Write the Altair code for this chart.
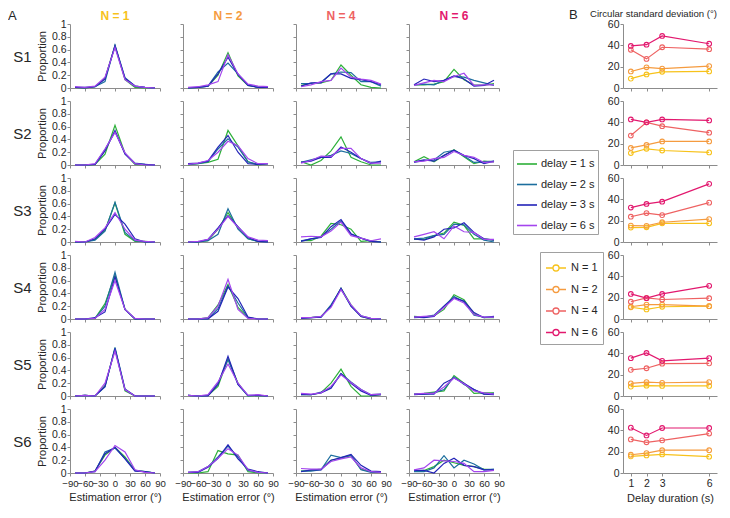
import altair as alt
import pandas as pd

subjects = ["S1", "S2", "S3", "S4", "S5", "S6"]
set_sizes = [1, 2, 4, 6]
set_labels = ["N = 1", "N = 2", "N = 4", "N = 6"]
set_colors = ["#F7C21B", "#F59B3F", "#EE6262", "#E2186E"]
delays = [1, 2, 3, 6]
delay_labels = ["delay = 1 s", "delay = 2 s", "delay = 3 s", "delay = 6 s"]
delay_colors = ["#2DB039", "#1C6E9E", "#2424B8", "#A445EE"]
error_bins = [-80, -60, -40, -20, 0, 20, 40, 60, 80]
x_ticks = [-90, -60, -30, 0, 30, 60, 90]
y_ticks = [0, 0.2, 0.4, 0.6, 0.8, 1]
csd_ticks = [0, 20, 40, 60]

# Panel A: proportion of responses per error bin; rows = delay 1, 2, 3, 6 s
S1_N1 = [[0.01, 0.00, 0.02, 0.15, 0.66, 0.13, 0.01, 0.00, 0.00],
         [0.01, 0.01, 0.02, 0.10, 0.67, 0.16, 0.03, 0.01, 0.00],
         [0.01, 0.00, 0.02, 0.14, 0.66, 0.15, 0.03, 0.01, 0.00],
         [0.02, 0.01, 0.03, 0.17, 0.63, 0.13, 0.03, 0.01, 0.00]]
S1_N2 = [[0.00, 0.01, 0.03, 0.20, 0.55, 0.19, 0.04, 0.01, 0.01],
         [0.00, 0.01, 0.03, 0.25, 0.39, 0.22, 0.05, 0.01, 0.01],
         [0.00, 0.01, 0.03, 0.22, 0.48, 0.21, 0.04, 0.01, 0.01],
         [0.01, 0.02, 0.05, 0.10, 0.52, 0.22, 0.06, 0.03, 0.02]]
S1_N4 = [[0.04, 0.07, 0.08, 0.12, 0.36, 0.20, 0.05, 0.01, 0.00],
         [0.07, 0.07, 0.09, 0.22, 0.25, 0.24, 0.10, 0.10, 0.03],
         [0.03, 0.08, 0.08, 0.22, 0.22, 0.15, 0.13, 0.10, 0.05],
         [0.02, 0.05, 0.10, 0.12, 0.31, 0.17, 0.14, 0.12, 0.06]]
S1_N6 = [[0.05, 0.05, 0.06, 0.10, 0.29, 0.13, 0.05, 0.04, 0.07],
         [0.05, 0.06, 0.05, 0.12, 0.18, 0.17, 0.12, 0.08, 0.04],
         [0.05, 0.14, 0.10, 0.12, 0.19, 0.14, 0.03, 0.04, 0.12],
         [0.04, 0.08, 0.12, 0.10, 0.18, 0.23, 0.04, 0.05, 0.05]]
S2_N1 = [[0.00, 0.00, 0.01, 0.17, 0.62, 0.18, 0.01, 0.00, 0.00],
         [0.00, 0.00, 0.01, 0.24, 0.52, 0.18, 0.03, 0.01, 0.00],
         [0.00, 0.00, 0.01, 0.22, 0.54, 0.17, 0.02, 0.01, 0.00],
         [0.00, 0.00, 0.02, 0.25, 0.51, 0.19, 0.02, 0.00, 0.00]]
S2_N2 = [[0.00, 0.02, 0.04, 0.09, 0.54, 0.30, 0.05, 0.00, 0.02],
         [0.01, 0.02, 0.05, 0.25, 0.41, 0.28, 0.05, 0.01, 0.02],
         [0.02, 0.03, 0.06, 0.28, 0.46, 0.20, 0.02, 0.01, 0.02],
         [0.01, 0.03, 0.07, 0.20, 0.37, 0.30, 0.10, 0.02, 0.02]]
S2_N4 = [[0.05, 0.00, 0.07, 0.22, 0.44, 0.12, 0.05, 0.00, 0.00],
         [0.04, 0.08, 0.12, 0.15, 0.22, 0.18, 0.10, 0.04, 0.05],
         [0.04, 0.06, 0.12, 0.12, 0.28, 0.20, 0.10, 0.02, 0.06],
         [0.03, 0.07, 0.14, 0.13, 0.26, 0.26, 0.10, 0.03, 0.03]]
S2_N6 = [[0.05, 0.13, 0.05, 0.15, 0.24, 0.13, 0.02, 0.06, 0.05],
         [0.04, 0.07, 0.08, 0.20, 0.23, 0.14, 0.04, 0.05, 0.06],
         [0.05, 0.08, 0.06, 0.15, 0.23, 0.15, 0.10, 0.02, 0.06],
         [0.05, 0.06, 0.10, 0.12, 0.21, 0.15, 0.12, 0.04, 0.05]]
S3_N1 = [[0.00, 0.00, 0.04, 0.18, 0.61, 0.12, 0.01, 0.01, 0.00],
         [0.00, 0.00, 0.03, 0.17, 0.62, 0.15, 0.02, 0.00, 0.00],
         [0.00, 0.00, 0.05, 0.20, 0.43, 0.28, 0.05, 0.00, 0.00],
         [0.01, 0.00, 0.07, 0.22, 0.46, 0.20, 0.03, 0.01, 0.00]]
S3_N2 = [[0.00, 0.00, 0.02, 0.20, 0.46, 0.22, 0.05, 0.01, 0.01],
         [0.00, 0.00, 0.02, 0.12, 0.52, 0.20, 0.05, 0.01, 0.00],
         [0.00, 0.00, 0.04, 0.22, 0.41, 0.24, 0.07, 0.01, 0.00],
         [0.00, 0.01, 0.04, 0.20, 0.40, 0.23, 0.08, 0.03, 0.02]]
S3_N4 = [[0.02, 0.02, 0.09, 0.29, 0.27, 0.20, 0.01, 0.02, 0.00],
         [0.02, 0.05, 0.08, 0.20, 0.33, 0.12, 0.06, 0.01, 0.00],
         [0.01, 0.05, 0.07, 0.24, 0.35, 0.13, 0.06, 0.01, 0.00],
         [0.08, 0.09, 0.08, 0.17, 0.31, 0.10, 0.06, 0.02, 0.05]]
S3_N6 = [[0.04, 0.04, 0.10, 0.14, 0.31, 0.26, 0.05, 0.05, 0.03],
         [0.05, 0.06, 0.10, 0.12, 0.28, 0.27, 0.12, 0.03, 0.00],
         [0.05, 0.03, 0.08, 0.20, 0.22, 0.30, 0.15, 0.05, 0.03],
         [0.08, 0.12, 0.16, 0.05, 0.25, 0.16, 0.15, 0.04, 0.04]]
S4_N1 = [[0.00, 0.00, 0.01, 0.24, 0.68, 0.15, 0.00, 0.00, 0.00],
         [0.00, 0.00, 0.01, 0.20, 0.73, 0.15, 0.00, 0.00, 0.00],
         [0.00, 0.00, 0.02, 0.11, 0.66, 0.15, 0.00, 0.00, 0.00],
         [0.00, 0.00, 0.01, 0.15, 0.60, 0.15, 0.01, 0.00, 0.00]]
S4_N2 = [[0.00, 0.00, 0.02, 0.22, 0.54, 0.18, 0.02, 0.00, 0.00],
         [0.00, 0.00, 0.00, 0.16, 0.52, 0.25, 0.02, 0.00, 0.00],
         [0.00, 0.00, 0.00, 0.12, 0.50, 0.32, 0.03, 0.00, 0.00],
         [0.00, 0.00, 0.02, 0.20, 0.62, 0.15, 0.01, 0.00, 0.00]]
S4_N4 = [[0.02, 0.02, 0.04, 0.20, 0.48, 0.22, 0.04, 0.00, 0.00],
         [0.01, 0.02, 0.03, 0.22, 0.47, 0.20, 0.05, 0.01, 0.00],
         [0.01, 0.02, 0.03, 0.20, 0.48, 0.20, 0.04, 0.00, 0.00],
         [0.02, 0.02, 0.04, 0.18, 0.46, 0.22, 0.05, 0.01, 0.00]]
S4_N6 = [[0.04, 0.03, 0.05, 0.15, 0.38, 0.30, 0.08, 0.02, 0.02],
         [0.02, 0.03, 0.06, 0.20, 0.35, 0.27, 0.06, 0.03, 0.03],
         [0.03, 0.02, 0.04, 0.20, 0.33, 0.28, 0.10, 0.02, 0.04],
         [0.03, 0.04, 0.05, 0.18, 0.32, 0.25, 0.07, 0.03, 0.03]]
S5_N1 = [[0.00, 0.01, 0.00, 0.16, 0.74, 0.08, 0.00, 0.00, 0.00],
         [0.00, 0.01, 0.00, 0.14, 0.76, 0.11, 0.00, 0.00, 0.00],
         [0.00, 0.01, 0.00, 0.15, 0.74, 0.10, 0.00, 0.00, 0.00],
         [0.00, 0.01, 0.00, 0.20, 0.70, 0.10, 0.00, 0.00, 0.00]]
S5_N2 = [[0.01, 0.00, 0.01, 0.15, 0.58, 0.20, 0.00, 0.01, 0.00],
         [0.01, 0.00, 0.01, 0.20, 0.57, 0.18, 0.00, 0.01, 0.00],
         [0.01, 0.00, 0.00, 0.18, 0.62, 0.18, 0.01, 0.01, 0.00],
         [0.01, 0.00, 0.02, 0.22, 0.50, 0.20, 0.01, 0.02, 0.00]]
S5_N4 = [[0.02, 0.02, 0.05, 0.20, 0.42, 0.15, 0.00, 0.00, 0.02],
         [0.03, 0.02, 0.06, 0.13, 0.35, 0.22, 0.10, 0.02, 0.03],
         [0.02, 0.02, 0.05, 0.12, 0.35, 0.20, 0.08, 0.01, 0.02],
         [0.04, 0.03, 0.05, 0.15, 0.33, 0.21, 0.10, 0.02, 0.03]]
S5_N6 = [[0.03, 0.04, 0.06, 0.08, 0.32, 0.20, 0.04, 0.05, 0.05],
         [0.03, 0.03, 0.05, 0.10, 0.30, 0.18, 0.10, 0.03, 0.04],
         [0.02, 0.03, 0.03, 0.20, 0.28, 0.20, 0.10, 0.03, 0.02],
         [0.03, 0.04, 0.04, 0.14, 0.28, 0.19, 0.08, 0.05, 0.03]]
S6_N1 = [[0.00, 0.00, 0.03, 0.28, 0.40, 0.25, 0.04, 0.02, 0.00],
         [0.00, 0.00, 0.02, 0.33, 0.39, 0.23, 0.04, 0.02, 0.00],
         [0.00, 0.00, 0.03, 0.30, 0.40, 0.22, 0.03, 0.02, 0.00],
         [0.00, 0.00, 0.02, 0.20, 0.43, 0.33, 0.05, 0.01, 0.00]]
S6_N2 = [[0.00, 0.00, 0.02, 0.35, 0.30, 0.28, 0.02, 0.00, 0.00],
         [0.01, 0.02, 0.10, 0.25, 0.42, 0.25, 0.04, 0.01, 0.00],
         [0.01, 0.01, 0.09, 0.23, 0.44, 0.22, 0.06, 0.02, 0.00],
         [0.01, 0.02, 0.10, 0.23, 0.38, 0.28, 0.05, 0.01, 0.00]]
S6_N4 = [[0.03, 0.04, 0.06, 0.20, 0.23, 0.27, 0.06, 0.02, 0.01],
         [0.03, 0.03, 0.05, 0.28, 0.24, 0.28, 0.05, 0.01, 0.01],
         [0.02, 0.05, 0.05, 0.20, 0.24, 0.29, 0.12, 0.03, 0.02],
         [0.07, 0.06, 0.06, 0.18, 0.22, 0.25, 0.08, 0.02, 0.01]]
S6_N6 = [[0.03, 0.04, 0.10, 0.20, 0.16, 0.12, 0.10, 0.06, 0.05],
         [0.02, 0.02, 0.08, 0.27, 0.08, 0.20, 0.14, 0.05, 0.06],
         [0.04, 0.04, 0.00, 0.15, 0.23, 0.12, 0.10, 0.05, 0.05],
         [0.05, 0.08, 0.20, 0.19, 0.18, 0.15, 0.02, 0.02, 0.04]]

# Panel B: circular standard deviation (deg); rows = N 1, 2, 4, 6; columns = delay 1, 2, 3, 6 s
csd_S1 = [[8.8, 12.7, 15.2, 15.5], [15.5, 19.4, 18.2, 20.6], [35.8, 27.3, 38.2, 36.4], [39.4, 40.6, 48.8, 41.5]]
csd_S2 = [[11.2, 15.2, 13.6, 11.8], [16.0, 18.8, 22.1, 22.1], [27.6, 40.0, 36.4, 30.3], [42.7, 40.0, 42.7, 41.8]]
csd_S3 = [[13.5, 13.8, 17.5, 17.5], [15.4, 15.1, 18.5, 21.5], [23.7, 27.1, 25.2, 36.9], [32.3, 35.7, 37.8, 54.5]]
csd_S4 = [[11.0, 9.0, 11.5, 12.0], [11.5, 13.5, 13.5, 12.0], [16.2, 19.8, 18.3, 19.5], [23.5, 19.5, 23.5, 31.1]]
csd_S5 = [[8.8, 9.7, 9.4, 9.4], [11.8, 13.0, 12.4, 13.0], [24.5, 26.0, 30.3, 30.6], [35.5, 40.3, 33.0, 35.5]]
csd_S6 = [[15.6, 16.5, 17.4, 15.3], [17.1, 18.7, 21.4, 21.4], [31.5, 28.8, 30.6, 37.0], [42.5, 35.2, 42.2, 42.2]]

prop_tables = [
    [S1_N1, S1_N2, S1_N4, S1_N6],
    [S2_N1, S2_N2, S2_N4, S2_N6],
    [S3_N1, S3_N2, S3_N4, S3_N6],
    [S4_N1, S4_N2, S4_N4, S4_N6],
    [S5_N1, S5_N2, S5_N4, S5_N6],
    [S6_N1, S6_N2, S6_N4, S6_N6],
]
csd_tables = [csd_S1, csd_S2, csd_S3, csd_S4, csd_S5, csd_S6]

FONT = "Liberation Sans"
GRAY = "#8c8c8c"
TXT = "#262626"
W, H = 90, 64
BW = 94
GAP_W = 78
LABEL_FS = 10.5

delay_scale = alt.Scale(domain=delay_labels, range=delay_colors)
set_scale = alt.Scale(domain=set_labels, range=set_colors)

delay_legend = alt.Legend(
    title=None, orient="none", legendX=443, legendY=126,
    symbolType="stroke", symbolSize=400, symbolStrokeWidth=1.6,
    labelFontSize=11, labelOffset=3, labelColor=TXT, labelFont=FONT,
    rowPadding=4.5, padding=3, strokeColor="#a0a0a0", fillColor="white",
)
line_circle = "M-1,0L-0.3,0M0.3,0L1,0M-0.3,0A0.3,0.3,0,1,0,0.3,0A0.3,0.3,0,1,0,-0.3,0"
set_legend = alt.Legend(
    title=None, orient="none", legendX=470, legendY=228,
    symbolType=line_circle, symbolSize=400, symbolStrokeWidth=1.3,
    labelFontSize=11, labelOffset=4, labelColor=TXT, labelFont=FONT,
    rowPadding=4.5, padding=5, strokeColor="#a0a0a0", fillColor="white",
)


def axis_common():
    return dict(domainColor=GRAY, tickColor=GRAY, tickSize=3, grid=False,
                labelColor=TXT, labelFont=FONT,
                titleFontSize=11, titleFontWeight="normal", titleColor=TXT, titleFont=FONT)


def prop_frame(table):
    rows = []
    for di, dl in enumerate(delay_labels):
        for bi, b in enumerate(error_bins):
            rows.append({"delay": dl, "error": b, "prop": table[di][bi]})
    return pd.DataFrame(rows)


def csd_frame(table):
    rows = []
    for ni, nl in enumerate(set_labels):
        for di, d in enumerate(delays):
            rows.append({"set": nl, "delay_s": d, "csd": table[ni][di]})
    return pd.DataFrame(rows)


def a_panel(si, ni):
    df = prop_frame(prop_tables[si][ni])
    bottom = si == 5
    left = ni == 0
    xs = alt.Scale(domain=[-90, 90], nice=False)
    ys = alt.Scale(domain=[0, 1], nice=False)
    xaxis = alt.Axis(values=x_ticks, labels=bottom, labelOverlap=False, labelFlush=False,
                     labelFontSize=9.6, labelPadding=2, titlePadding=4, **axis_common())
    yaxis = alt.Axis(values=y_ticks, labels=left, format="~g", labelFontSize=LABEL_FS,
                     labelPadding=1, titlePadding=4, **axis_common())
    if bottom:
        x = alt.X("error:Q", scale=xs, axis=xaxis, title="Estimation error (°)")
    else:
        x = alt.X("error:Q", scale=xs, axis=xaxis, title=None)
    if left:
        y = alt.Y("prop:Q", scale=ys, axis=yaxis, title="Proportion")
    else:
        y = alt.Y("prop:Q", scale=ys, axis=yaxis, title=None)
    lines = alt.Chart(df).mark_line(strokeWidth=1.2).encode(
        x=x, y=y,
        color=alt.Color("delay:N", scale=delay_scale, legend=delay_legend),
    )
    if left:
        ghost = alt.Chart(df).mark_line(strokeOpacity=0).encode(
            x=x,
            y=alt.Y("prop:Q", scale=ys, axis=alt.Axis(
                orient="left", offset=37, domain=False, ticks=False, labels=False, grid=False,
                title=subjects[si], titleAngle=0, titleAlign="right", titleBaseline="middle",
                titleFontSize=15, titleFontWeight="normal", titlePadding=2, titleColor=TXT,
                titleFont=FONT)),
        )
        ch = alt.layer(lines, ghost).resolve_axis(y="independent")
    else:
        ch = alt.layer(lines)
    ch = ch.properties(width=W, height=H)
    if si == 0:
        ch = ch.properties(title=alt.TitleParams(
            set_labels[ni], color=set_colors[ni], fontSize=12, fontWeight="bold",
            font=FONT, anchor="middle", offset=(1 - 5.25) if left else 1))
    return ch


def gap_panel(si):
    df = pd.DataFrame({"v": [0]})
    ch = alt.Chart(df).mark_point(opacity=0).encode(
        x=alt.X("v:Q", axis=None), y=alt.Y("v:Q", axis=None)
    ).properties(width=GAP_W, height=H)
    if si == 0:
        ch = ch.properties(title=alt.TitleParams(
            "B", fontSize=13, fontWeight="normal", font=FONT, color=TXT,
            anchor="start", frame="group", dx=47, offset=2))
    return ch


def b_panel(si):
    df = csd_frame(csd_tables[si])
    bottom = si == 5
    xs = alt.Scale(domain=[0.5, 6.5], nice=False)
    ys = alt.Scale(domain=[0, 60], nice=False)
    xaxis = alt.Axis(values=delays, labels=bottom, labelFontSize=LABEL_FS, labelPadding=2,
                     titlePadding=4, **axis_common())
    yaxis = alt.Axis(values=csd_ticks, labelFontSize=LABEL_FS, labelPadding=1, **axis_common())
    if bottom:
        x = alt.X("delay_s:Q", scale=xs, axis=xaxis, title="Delay duration (s)")
    else:
        x = alt.X("delay_s:Q", scale=xs, axis=xaxis, title=None)
    y = alt.Y("csd:Q", scale=ys, axis=yaxis, title=None)
    stroke = alt.Stroke("set:N", scale=set_scale, legend=set_legend)
    line = alt.Chart(df).mark_line(strokeWidth=1.2).encode(x=x, y=y, stroke=stroke)
    pts = alt.Chart(df).mark_point(filled=False, size=22, strokeWidth=1.1, opacity=1).encode(
        x=x, y=y, stroke=stroke)
    ch = alt.layer(line, pts).properties(width=BW, height=H)
    if si == 0:
        ch = ch.properties(title=alt.TitleParams(
            "Circular standard deviation (°)", fontSize=9.6, fontWeight="normal", font=FONT,
            color=TXT, anchor="start", frame="group", dx=-33, offset=0))
    return ch


cells = []
for si in range(6):
    for ni in range(4):
        cells.append(a_panel(si, ni))
    cells.append(gap_panel(si))
    cells.append(b_panel(si))

chart = alt.concat(
    *cells, columns=6, spacing={"row": 13, "column": 23}, bounds="flush",
    title=alt.TitleParams("A", fontSize=13, fontWeight="normal", font=FONT, color=TXT,
                          anchor="start", frame="group", dx=-62, offset=-14),
).resolve_scale(x="independent", y="independent", color="shared", stroke="shared").properties(
    padding=0
).configure(font=FONT).configure_view(stroke="transparent")

chart.save("out.html", embed_options={"renderer": "svg", "actions": False})
